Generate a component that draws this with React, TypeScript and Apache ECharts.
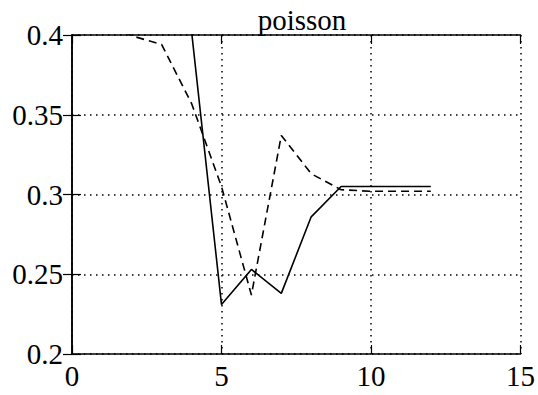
import React, { useEffect, useRef } from "react";
import * as echarts from "echarts";

const xValues = [1, 2, 3, 4, 5, 6, 7, 8, 9, 10, 11, 12];
const solidValues = [null, null, 0.47, 0.402, 0.231, 0.253, 0.238, 0.286, 0.305, 0.305, 0.305, 0.305];
const dashedValues = [0.41, 0.3995, 0.394, 0.357, 0.305, 0.237, 0.337, 0.313, 0.303, 0.302, 0.302, 0.302];
const titleText = "poisson";
const xTicks = { min: 0, max: 15, interval: 5 };
const yTicks = { min: 0.2, max: 0.4, interval: 0.05 };

const FONT = '"Liberation Serif", "DejaVu Serif", serif';

function pairs(vals: (number | null)[]) {
  const out: [number, number][] = [];
  vals.forEach((v, i) => {
    if (v !== null) out.push([xValues[i], v]);
  });
  return out;
}

export default function App() {
  const ref = useRef<HTMLDivElement>(null);
  useEffect(() => {
    if (!ref.current) return;
    const chart = echarts.init(ref.current, undefined, { renderer: "svg" });
    const axisLine = { show: true, lineStyle: { color: "#000", width: 1.5 } };
    const tick = { show: true, inside: true, length: 9, lineStyle: { color: "#000", width: 1.2 } };
    const split = { show: true, lineStyle: { color: "#000", width: 1.5, type: [1.5, 4.5] as any } };
    chart.setOption({
      animation: false,
      backgroundColor: "#fff",
      textStyle: { fontFamily: FONT },
      title: {
        text: titleText,
        left: 297,
        textAlign: "center",
        top: 0,
        textStyle: { fontFamily: FONT, fontSize: 29, fontWeight: "normal", color: "#000" },
      },
      grid: { left: 72, right: 16, top: 35, bottom: 41 },
      xAxis: [
        {
          type: "value",
          min: xTicks.min,
          max: xTicks.max,
          interval: xTicks.interval,
          position: "bottom",
          axisLine,
          axisTick: tick,
          splitLine: split,
          axisLabel: { fontFamily: FONT, fontSize: 29, color: "#000", margin: 7 },
        },
        {
          type: "value",
          min: xTicks.min,
          max: xTicks.max,
          interval: xTicks.interval,
          position: "top",
          axisLine,
          axisTick: tick,
          splitLine: { show: false },
          axisLabel: { show: false },
        },
      ],
      yAxis: [
        {
          type: "value",
          min: yTicks.min,
          max: yTicks.max,
          interval: yTicks.interval,
          position: "left",
          axisLine,
          axisTick: tick,
          splitLine: split,
          axisLabel: { fontFamily: FONT, fontSize: 29, color: "#000", margin: 9 },
        },
        {
          type: "value",
          min: yTicks.min,
          max: yTicks.max,
          interval: yTicks.interval,
          position: "right",
          axisLine,
          axisTick: tick,
          splitLine: { show: false },
          axisLabel: { show: false },
        },
      ],
      series: [
        {
          type: "line",
          data: pairs(solidValues),
          showSymbol: false,
          clip: true,
          lineStyle: { color: "#000", width: 1.6, type: "solid" },
        },
        {
          type: "line",
          data: pairs(dashedValues),
          showSymbol: false,
          clip: true,
          lineStyle: { color: "#000", width: 1.6, type: [8, 5] as any },
        },
      ],
    });
    return () => chart.dispose();
  }, []);
  return (
    <div
      ref={ref}
      style={{ position: "fixed", left: 0, top: 0, width: 538, height: 395, background: "#fff" }}
    />
  );
}
